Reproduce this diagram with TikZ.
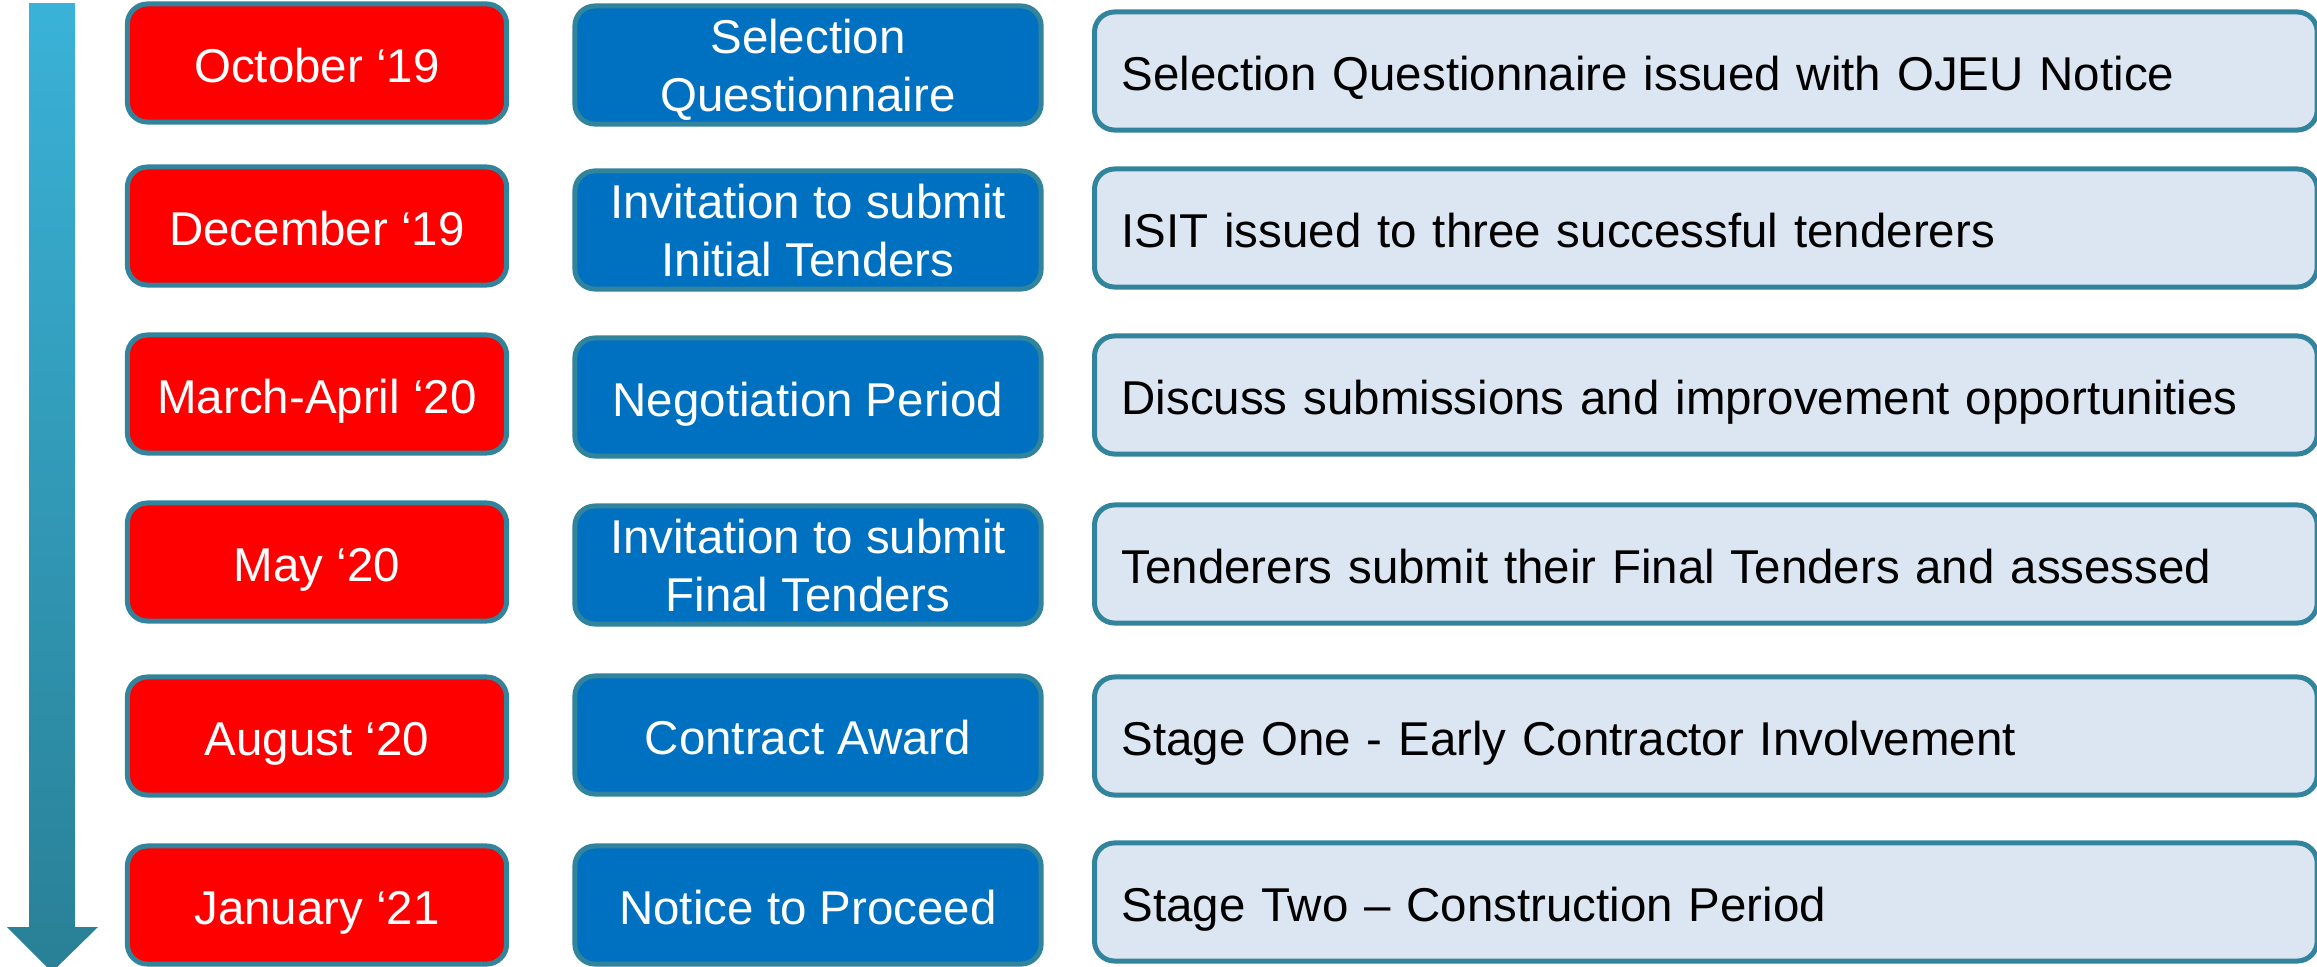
\documentclass[tikz,border=0pt]{standalone}
\usepackage{fontspec}
\setmainfont{Liberation Sans}
\usepackage{tikz}
\definecolor{boxedge}{RGB}{49,132,155}
\definecolor{datered}{RGB}{255,0,0}
\definecolor{stageblue}{RGB}{0,112,192}
\definecolor{notefill}{RGB}{220,230,242}
\definecolor{arrowtop}{RGB}{58,178,215}
\definecolor{arrowbot}{RGB}{41,128,150}

\begin{document}
\begin{tikzpicture}[x=0.01cm, y=-0.01cm,
  every node/.style={font=\fontsize{13.5pt}{16.5pt}\selectfont,
    execute at begin node={\rule[-0.10cm]{0pt}{0.59cm}},
    execute at end node={\rule[-0.10cm]{0pt}{0.10cm}}},
  twoline/.style={inner ysep=0pt,
    execute at begin node={\rule[-0.06cm]{0pt}{1.09cm}},
    execute at end node={}},
  datebox/.style={draw=boxedge, line width=0.05cm, rounded corners=0.2cm, fill=datered, text=white, minimum width=3.79cm, minimum height=1.18cm, align=center},
  stagebox/.style={draw=boxedge, line width=0.05cm, rounded corners=0.2cm, fill=stageblue, text=white, minimum width=4.66cm, minimum height=1.18cm, align=center},
  notebox/.style={draw=boxedge, line width=0.05cm, rounded corners=0.2cm, fill=notefill, text=black, anchor=west, text width=11.68cm, inner xsep=0.27cm, minimum height=1.18cm, align=left}]
\useasboundingbox (0,0) rectangle (2317,966);
\clip (0,0) rectangle (2317,966);
% time arrow
\shade[top color=arrowtop, bottom color=arrowbot] (29,3)--(75,3)--(75,927)--(98,927)--(52,972)--(7,927)--(29,927)--cycle;
% dates
\path
(317,63) node[datebox] (oct19) {October ‘19};
\path
(317,226) node[datebox] (dec19) {December ‘19};
\path
(317,394) node[datebox] (mar20) {March-April ‘20};
\path
(317,562) node[datebox] (may20) {May ‘20};
\path
(317,736) node[datebox] (aug20) {August ‘20};
\path
(317,905) node[datebox] (jan21) {January ‘21};
% stages
\path
(808,65) node[stagebox, twoline] (selq) {Selection\\Questionnaire};
\path
(808,230) node[stagebox, twoline] (isit) {Invitation to submit\\Initial Tenders};
\path
(808,397) node[stagebox] (negp) {Negotiation Period};
\path
(808,565) node[stagebox, twoline] (isft) {Invitation to submit\\Final Tenders};
\path
(808,735) node[stagebox] (award) {Contract Award};
\path
(808,905) node[stagebox] (ntp) {Notice to Proceed};
% notes
\path
(1092,71) node[notebox] (selqnote) {Selection Questionnaire issued with OJEU Notice};
\path
(1092,228) node[notebox] (isitnote) {ISIT issued to three successful tenderers};
\path
(1092,395) node[notebox] (negpnote) {Discuss submissions and improvement opportunities};
\path
(1092,564) node[notebox] (isftnote) {Tenderers submit their Final Tenders and assessed};
\path
(1092,736) node[notebox] (awardnote) {Stage One - Early Contractor Involvement};
\path
(1092,902) node[notebox] (ntpnote) {Stage Two – Construction Period};
\end{tikzpicture}
\end{document}
